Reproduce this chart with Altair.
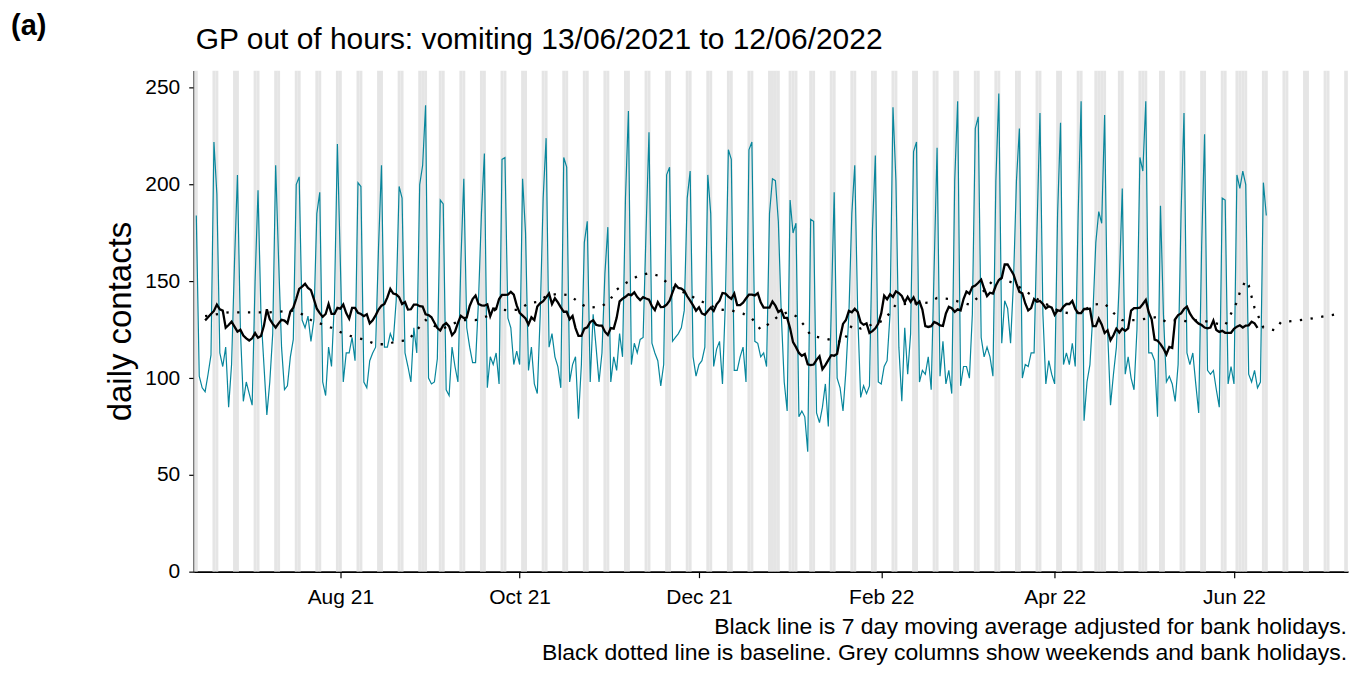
import altair as alt
import pandas as pd

# ---------------- data ----------------
START_DATE = "2021-06-13"   # first day of the series (a Sunday)

# daily GP out-of-hours contacts, one value per day, 13/06/2021 .. 12/06/2022
daily_contacts = [
    184, 101, 95, 93, 102, 112, 222,
    195, 113, 106, 116, 85, 107, 160,
    205, 125, 88, 98, 92, 86, 150,
    197, 133, 107, 81, 98, 123, 210,
    161, 116, 94, 96, 111, 120, 200,
    204, 130, 126, 132, 119, 130, 185,
    196, 98, 91, 116, 106, 140, 221,
    160, 98, 113, 113, 121, 109, 201,
    199, 98, 95, 109, 113, 116, 168,
    210, 116, 116, 123, 119, 140, 199,
    193, 113, 106, 98, 126, 113, 200,
    210, 241, 100, 97, 98, 110, 192,
    190, 94, 91, 116, 106, 98, 160,
    203, 126, 116, 108, 108, 140, 185,
    216, 95, 111, 107, 113, 97, 213,
    214, 131, 126, 107, 114, 107, 203,
    175, 104, 116, 97, 92, 133, 193,
    224, 116, 123, 111, 106, 95, 214,
    209, 98, 107, 111, 79, 107, 170,
    181, 98, 133, 116, 98, 113, 154,
    178, 98, 111, 104, 123, 111, 193,
    238, 107, 118, 113, 120, 121, 176,
    227, 118, 113, 109, 96, 107, 205,
    209, 119, 121, 123, 126, 135, 193,
    207, 111, 101, 107, 109, 116, 205,
    185, 106, 115, 119, 97, 140, 218,
    213, 104, 104, 111, 116, 98, 218,
    222, 119, 118, 111, 113, 106, 185,
    203, 202, 181, 133, 98, 83, 192,
    175, 180, 80, 83, 80, 62, 182,
    181, 82, 77, 85, 97, 75, 135,
    196, 100, 95, 83, 104, 133, 185,
    210, 133, 90, 96, 92, 96, 176,
    215, 98, 97, 106, 109, 133, 240,
    202, 116, 88, 126, 102, 123, 217,
    222, 98, 104, 102, 111, 94, 157,
    219, 101, 119, 97, 104, 92, 202,
    243, 96, 106, 106, 100, 133, 229,
    235, 121, 111, 116, 111, 101, 202,
    247, 118, 140, 136, 118, 150, 202,
    229, 100, 107, 106, 113, 113, 177,
    237, 133, 97, 109, 102, 97, 185,
    232, 107, 113, 107, 118, 106, 185,
    243, 78, 98, 107, 133, 170, 186,
    180, 236, 125, 86, 102, 116, 150,
    198, 102, 111, 100, 94, 125, 214,
    207, 243, 113, 113, 109, 80, 189,
    133, 98, 101, 97, 88, 107, 185,
    237, 113, 107, 113, 97, 82, 168,
    226, 104, 102, 104, 94, 85, 193,
    192, 97, 106, 97, 205, 198, 207,
    200, 102, 98, 104, 95, 98, 201,
    184,
]

# baseline (dotted line): day offset from START_DATE and value
baseline_day = [3, 11, 25, 34, 39, 46, 50, 54, 57, 61, 65, 68, 72, 74, 78, 81, 84,
                87, 91, 95, 99, 102, 106, 110, 113, 116, 119, 123, 127, 130, 133,
                138, 141, 143, 146, 150, 154, 157, 160, 163, 167, 171, 178, 182,
                186, 189, 192, 195, 198, 201, 204, 207, 209, 212, 220, 223, 226,
                234, 238, 249, 252, 256, 263, 266, 271, 274, 278, 281, 287, 294,
                298, 302, 305, 309, 312, 315, 320, 327, 330, 334, 338, 341, 350,
                352, 354, 355, 357, 358, 359, 360, 363, 367, 369, 373, 377, 381,
                385, 388]
baseline_value = [132, 134, 134, 135, 130, 126, 123, 121, 120, 117.5, 117.5, 119,
                  119.5, 123, 130, 127, 125.6, 128, 130, 130, 132, 135.7, 135,
                  135.4, 138.8, 139.3, 142.3, 143.6, 142.8, 139.3, 136.3, 137, 141,
                  145.7, 149, 152.6, 154.3, 153, 149.6, 146, 143.6, 140.2, 135.4,
                  135, 133.3, 130.8, 125, 128.3, 132, 134, 132, 127, 122, 121,
                  118.4, 127.3, 125.6, 129.9, 138, 139, 141.4, 140.9, 138, 141.8,
                  150.5, 151.4, 149.1, 146, 140, 134.2, 133.3, 135, 138, 138.5,
                  133.7, 130, 130, 131.6, 129, 130.2, 129, 130.2, 127.3, 133.3,
                  139.3, 144.4, 150.5, 148, 142, 136.3, 126.1, 124.7, 129, 129.5,
                  130.2, 131.2, 132.3, 133]

bank_holidays = ["2021-08-30", "2021-12-27", "2021-12-28", "2022-01-03",
                 "2022-04-15", "2022-04-18", "2022-05-02", "2022-06-02", "2022-06-03"]
shade_range = ["2021-06-12", "2022-07-10"]

x_tick_dates = ["2021-08-01", "2021-10-01", "2021-12-01",
                "2022-02-01", "2022-04-01", "2022-06-01"]
y_ticks = [0, 50, 100, 150, 200, 250]

TITLE = "GP out of hours: vomiting 13/06/2021 to 12/06/2022"
PANEL = "(a)"
CAPTION = ["Black line is 7 day moving average adjusted for bank holidays.",
           "Black dotted line is baseline. Grey columns show weekends and bank holidays."]

# ---------------- tables ----------------
FMT = "%Y-%m-%dT%H:%M:%SZ"
start = pd.Timestamp(START_DATE)
dates = pd.date_range(start, periods=len(daily_contacts), freq="D")
bh = set(bank_holidays)

# bank-holiday adjustment for the moving average: a bank holiday counts as the
# same weekday of the week before
ma_input = list(daily_contacts)
for i, d in enumerate(dates):
    if d.strftime("%Y-%m-%d") in bh and i >= 7:
        ma_input[i] = ma_input[i - 7]

daily_df = pd.DataFrame({"date": [d.strftime(FMT) for d in dates],
                         "contacts": daily_contacts,
                         "ma_input": ma_input})
base_df = pd.DataFrame({"date": [(start + pd.Timedelta(days=d)).strftime(FMT) for d in baseline_day],
                        "baseline": baseline_value})
all_days = pd.date_range(shade_range[0], shade_range[1], freq="D")
shaded = [d for d in all_days if d.weekday() >= 5 or d.strftime("%Y-%m-%d") in bh]
shade_df = pd.DataFrame({
    "start": [(d - pd.Timedelta(hours=12)).strftime(FMT) for d in shaded],
    "end": [(d + pd.Timedelta(hours=12)).strftime(FMT) for d in shaded],
})

# ---------------- chart ----------------
W, H = 1156, 502
FONT = "Liberation Sans"


def dt(s, hours=0):
    t = pd.Timestamp(s)
    return alt.DateTime(year=t.year, month=t.month, date=t.day, hours=hours, utc=True)


xscale = alt.Scale(type="utc", domain=[dt("2021-06-12", 3), dt("2022-07-09", 19)])
yscale = alt.Scale(domain=[0, 259], nice=False, zero=True)

xaxis = alt.Axis(values=[dt(s) for s in x_tick_dates], format="%b %y", title=None,
                 labelFontSize=21, labelFont=FONT, labelColor="black",
                 tickSize=6, tickColor="black", tickWidth=1.2, labelPadding=9,
                 domainColor="black", domainWidth=1.8, grid=False)
yaxis = alt.Axis(values=y_ticks, title="daily contacts", titleFontSize=33,
                 titleFont=FONT, titleFontWeight="normal", titleColor="black",
                 titlePadding=7, labelFontSize=21, labelFont=FONT, labelColor="black",
                 tickSize=5, tickColor="black", tickWidth=1.2, labelPadding=9,
                 domainColor="black", domainWidth=1.8, grid=False)


def X(field):
    return alt.X(field, type="temporal", scale=xscale, axis=xaxis)


def Y(field):
    return alt.Y(field, type="quantitative", scale=yscale, axis=yaxis)


shade = alt.Chart(shade_df).mark_rect(color="#E5E5E5", clip=True).encode(
    x=X("start"), x2="end", y=alt.value(0), y2=alt.value(H))

teal = alt.Chart(daily_df).mark_line(color="#08869C", strokeWidth=1.2, clip=True).encode(
    x=X("date"), y=Y("contacts"))

baseline = alt.Chart(base_df).mark_line(color="black", strokeWidth=2.3, strokeDash=[2.3, 8.5],
                                        clip=True).encode(x=X("date"), y=Y("baseline"))

moving = alt.Chart(daily_df).transform_window(
    ma7="mean(ma_input)", n7="count(ma_input)", frame=[-3, 3],
    sort=[alt.SortField("date", order="ascending")]
).transform_filter("datum.n7 == 7").mark_line(color="black", strokeWidth=2.3, clip=True).encode(
    x=X("date"), y=Y("ma7"))

panel = alt.Chart(pd.DataFrame({"t": [PANEL]})).mark_text(
    font=FONT, fontSize=29, fontWeight="bold", align="left", baseline="alphabetic", color="black"
).encode(text="t:N", x=alt.value(-183), y=alt.value(-35))

title = alt.Chart(pd.DataFrame({"t": [TITLE]})).mark_text(
    font=FONT, fontSize=30, align="left", baseline="alphabetic", color="black"
).encode(text="t:N", x=alt.value(2), y=alt.value(-21))

caption = alt.Chart(pd.DataFrame({"t": ["\n".join(CAPTION)]})).mark_text(
    font=FONT, fontSize=23, align="right", baseline="alphabetic", color="black",
    lineBreak="\n", lineHeight=26
).encode(text="t:N", x=alt.value(W - 1), y=alt.value(564))

chart = alt.layer(shade, teal, baseline, moving, panel, title, caption).properties(
    width=W, height=H,
    padding={"left": 186, "top": 62, "right": 6, "bottom": 95},
    autosize=alt.AutoSizeParams(type="none"),
    background="white",
).configure_view(stroke=None)

chart.save("out.html", embed_options={"renderer": "svg", "actions": False})
